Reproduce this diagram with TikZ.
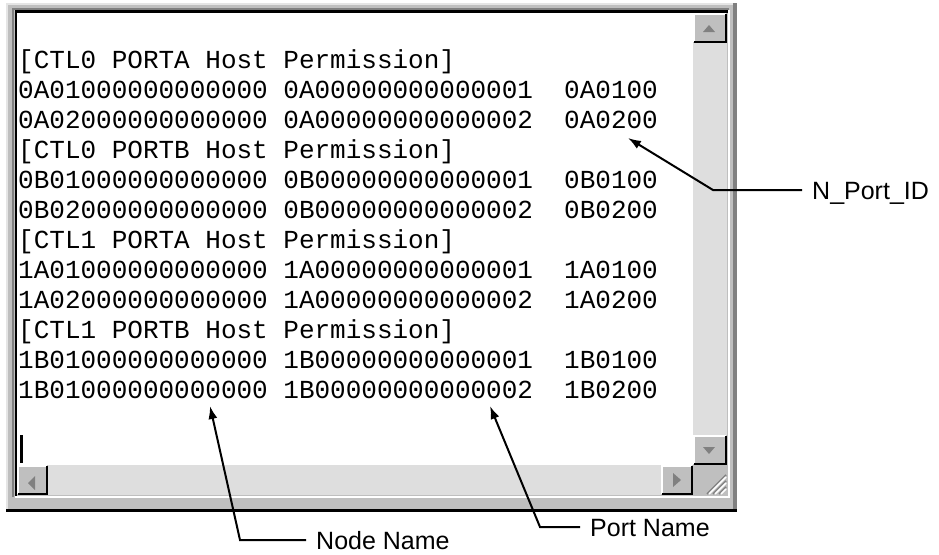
\documentclass[tikz,border=0pt]{standalone}
\usepackage{fontspec}
\usetikzlibrary{arrows.meta}
\setmainfont{Liberation Sans}
\newfontfamily\termfont{Liberation Mono}
\def\FaceColor{black!25}
\def\ShadeColor{black!50}
\def\TrackColor{black!13}
\def\EdgeColor{black!10}

\begin{document}
\begin{tikzpicture}[x=1pt,y=-1pt]
\tikzstyle{textline} = [anchor=base west, inner sep=0pt, font=\termfont\fontsize{26}{26}\selectfont]
\tikzstyle{callout} = [anchor=west, inner xsep=10pt, inner ysep=0pt, text height=18pt, text depth=0pt, font=\fontsize{25}{25}\selectfont]
\tikzstyle{leader} = [draw, line width=2pt, -{Latex[length=13pt,width=9pt]}]
\tikzstyle{btnlit} = [white, line width=2pt]
\tikzstyle{btndark} = [black, line width=2pt]
\tikzstyle{arrowglyph} = [fill=\ShadeColor]

\useasboundingbox (0,0) rectangle (939,554);
\fill[white] (0,0) rectangle (939,554);

% window frame
\fill[\FaceColor] (6,3) rectangle (737,512);
\draw[\EdgeColor, line width=2pt] (7,511) |- (736,4);
\draw[\ShadeColor, line width=4pt] (735,3) -- (735,509);
\draw[black, line width=3pt] (6,510.5) -- (737,510.5);
\draw[\ShadeColor, line width=2pt] (13,497) |- (729,9);
\draw[black, line width=2.5pt] (16,496) |- (728,11.5);
\draw[white, line width=2pt] (15,497) -| (729,10);

% edit area and scroll tracks
\fill[white] (17,13) rectangle (693,465);
\fill[\TrackColor] (693,13) rectangle (727,465);
\fill[\TrackColor] (17,465) rectangle (693,495);

% scroll buttons
\fill[\FaceColor] (693,13) rectangle (727,43);
\draw[btnlit] (694,42) |- (726,14);
\draw[btndark] (694,42) -| (726,14);
\fill[arrowglyph] (703,32) -- (715,32) -- (709,25) -- cycle;

\fill[\FaceColor] (693,435) rectangle (727,465);
\draw[btnlit] (694,464) |- (726,436);
\draw[btndark] (694,464) -| (726,436);
\fill[arrowglyph] (703,447) -- (715,447) -- (709,454) -- cycle;

\fill[\FaceColor] (17,465) rectangle (48,495);
\draw[btnlit] (18,494) |- (47,466);
\draw[btndark] (18,494) -| (47,466);
\fill[arrowglyph] (35,476) -- (35,490) -- (28,483) -- cycle;

\fill[\FaceColor] (661,465) rectangle (693,495);
\draw[btnlit] (662,494) |- (692,466);
\draw[btndark] (662,494) -| (692,466);
\fill[arrowglyph] (673,473) -- (673,487) -- (681,480) -- cycle;

% size grip
\fill[\FaceColor] (693,465) rectangle (727,495);
\draw[\ShadeColor, line width=1.5pt] (707,494) -- (726,475);
\draw[white, line width=1.5pt] (709,494) -- (726,477);
\draw[\ShadeColor, line width=1.5pt] (713,494) -- (726,481);
\draw[white, line width=1.5pt] (715,494) -- (726,483);
\draw[\ShadeColor, line width=1.5pt] (719,494) -- (726,487);
\draw[white, line width=1.5pt] (721,494) -- (726,489);

% caret
\draw[line width=3pt] (21,435) -- (21,463);

\node[textline] at (18,68) (ctl0a) {[CTL0 PORTA Host Permission]};
\node[textline] at (18,98) (ctl0a1) {0A01000000000000 0A00000000000001\ \ 0A0100};
\node[textline] at (18,128) (ctl0a2) {0A02000000000000 0A00000000000002\ \ 0A0200};
\node[textline] at (18,158) (ctl0b) {[CTL0 PORTB Host Permission]};
\node[textline] at (18,188) (ctl0b1) {0B01000000000000 0B00000000000001\ \ 0B0100};
\node[textline] at (18,218) (ctl0b2) {0B02000000000000 0B00000000000002\ \ 0B0200};
\node[textline] at (18,248) (ctl1a) {[CTL1 PORTA Host Permission]};
\node[textline] at (18,278) (ctl1a1) {1A01000000000000 1A00000000000001\ \ 1A0100};
\node[textline] at (18,308) (ctl1a2) {1A02000000000000 1A00000000000002\ \ 1A0200};
\node[textline] at (18,338) (ctl1b) {[CTL1 PORTB Host Permission]};
\node[textline] at (18,368) (ctl1b1) {1B01000000000000 1B00000000000001\ \ 1B0100};
\node[textline] at (18,398) (ctl1b2) {1B01000000000000 1B00000000000002\ \ 1B0200};

\coordinate (npidtip) at (628,138);
\coordinate (npidknee) at (713,190);
\node[callout] at (802,190) (npid) {N\_Port\_ID};

\coordinate (nodetip) at (210,406);
\coordinate (nodeknee) at (240,540);
\node[callout] at (306,540) (nodelbl) {Node Name};

\coordinate (porttip) at (490,406);
\coordinate (portknee) at (540,527);
\node[callout] at (580,527) (portlbl) {Port Name};

\path [leader] (npid.west) -- (npidknee) -- (npidtip);
\path [leader] (nodelbl.west) -- (nodeknee) -- (nodetip);
\path [leader] (portlbl.west) -- (portknee) -- (porttip);

\end{tikzpicture}
\end{document}
